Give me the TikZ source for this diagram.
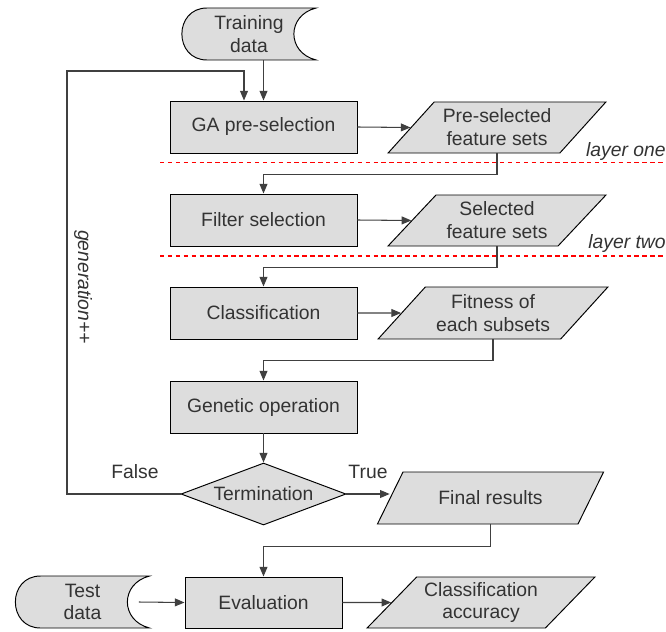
\documentclass[tikz,border=0pt]{standalone}
\usepackage{fontspec}
\setmainfont{Liberation Sans}
\usepackage{xcolor}
\usepackage{tikz}
\usetikzlibrary{shapes.geometric}
\usetikzlibrary{arrows.meta}
\definecolor{boxgray}{HTML}{DDDDDD}
\definecolor{inkgray}{HTML}{333333}
\definecolor{layerred}{HTML}{FF0000}
\newcommand{\datashape}[1]{%
    \begin{scope}[shift={#1}]
        \filldraw[draw = black, fill = boxgray, line width = 0.55pt]
            (-0.84, 0.52) -- (1.34, 0.52)
            .. controls (0.75, 0.37) and (0.75, -0.37) .. (1.34, -0.52)
            -- (-0.84, -0.52)
            .. controls (-1.51, -0.52) and (-1.51, 0.52) .. (-0.84, 0.52) -- cycle;
    \end{scope}}

\begin{document}
\begin{tikzpicture}[
        font = \fontsize{11}{13}\selectfont,
        every node/.style = {text = inkgray},
        datatext/.style = {minimum width = 2.68cm, minimum height = 1.04cm,
            inner sep = 0pt, align = center},
        stepbox/.style = {draw = black, fill = boxgray, line width = 0.55pt,
            minimum width = 3.74cm, minimum height = 1.04cm, align = center},
        iobox/.style = {trapezium, trapezium stretches, trapezium left angle = 43,
            trapezium right angle = 137, draw = black, fill = boxgray,
            line width = 0.55pt, minimum width = 4.36cm, minimum height = 1.02cm,
            inner sep = 0pt, align = center},
        decision/.style = {diamond, aspect = 2.66, draw = black, fill = boxgray,
            line width = 0.55pt, minimum width = 3.3cm, minimum height = 1.24cm,
            inner sep = 0pt},
        flow/.style = {draw = black!75, line width = 0.6pt,
            -{Triangle[length = 5.5pt, width = 4.5pt]}},
        layerline/.style = {draw = layerred, dash pattern = on 2.5pt off 2pt,
            line width = 0.6pt}
    ]
        \useasboundingbox (0, 0) rectangle (13.32, -12.62);

        % storage shapes
        \datashape{(4.98, -0.68)}
        \datashape{(1.65, -12.04)}
        \node[datatext] (train) at (4.98, -0.68) {Training\\data};
        \node[datatext] (test) at (1.65, -12.04) {Test\\data};

        % main column
        \node[stepbox] (ga) at (5.27, -2.54) {GA pre-selection};
        \node[stepbox] (filter) at (5.27, -4.40) {Filter selection};
        \node[stepbox] (classif) at (5.27, -6.26) {Classification};
        \node[stepbox] (genetic) at (5.27, -8.14) {Genetic operation};
        \node[decision] (term) at (5.27, -9.88) {Termination};
        \node[stepbox, minimum width = 3.14cm, minimum height = 1.02cm] (eval)
            at (5.27, -12.05) {Evaluation};

        % data sets
        \node[iobox] (pre) at (9.94, -2.55) {Pre-selected\\feature sets};
        \node[iobox] (sel) at (9.94, -4.41) {Selected\\feature sets};
        \node[iobox, minimum width = 4.6cm, minimum height = 1.04cm] (fit)
            at (9.86, -6.26) {Fitness of\\each subsets};
        \node[iobox, minimum width = 4.54cm, minimum height = 1.04cm] (final)
            at (9.81, -9.96) {Final results};
        \node[iobox, minimum width = 4.56cm] (acc)
            at (9.62, -12.05) {Classification\\accuracy};

        % layers
        \draw[layerline] (3.2, -3.25) -- (13.32, -3.25);
        \draw[layerline] (3.2, -5.12) -- (13.32, -5.12);
        \node[anchor = east, inner sep = 0pt, font = \fontsize{11}{13}\selectfont\itshape]
            (l1) at (13.32, -3.04) {layer one};
        \node[anchor = east, inner sep = 0pt, font = \fontsize{11}{13}\selectfont\itshape]
            (l2) at (13.32, -4.86) {layer two};

        % connectors
        \coordinate (loop) at (1.34, -1.42);
        \draw[flow] (train.south -| ga.north) -- (ga.north);
        \draw[flow] (term.west) -| (loop) -| ([xshift = -0.39cm]ga.north);
        \draw[flow] (ga.east) -- (pre.west);
        \draw[flow] (pre.south) -- ++(0, -0.42) -| (filter.north);
        \draw[flow] (filter.east) -- (sel.west);
        \draw[flow] (sel.south) -- ++(0, -0.42) -| (classif.north);
        \draw[flow] (classif.east) -- (fit.west);
        \draw[flow] (fit.south) -- ++(0, -0.42) -| (genetic.north);
        \draw[flow] (genetic.south) -- (term.north);
        \draw[flow] (term.east) -- (term.east -| final.west);
        \draw[flow] (final.south) -- ++(0, -0.44) -| (eval.north);
        \draw[flow] ([xshift = -0.22cm]test.east) -- (eval.west);
        \draw[flow] (eval.east) -- (acc.west);

        \node (false) at (2.70, -9.44) {False};
        \node (true) at (7.36, -9.44) {True};
        \node[rotate = -90, font = \fontsize{11}{13}\selectfont\itshape] (gen)
            at (1.66, -5.74) {generation++};
    \end{tikzpicture}
\end{document}
